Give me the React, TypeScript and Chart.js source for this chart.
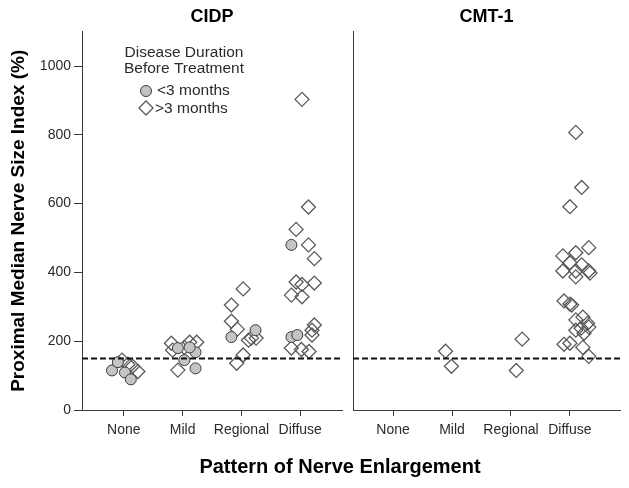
import { useEffect, useRef } from 'react';
import { Chart, registerables } from 'chart.js';

Chart.register(...registerables);

// ---------- data ----------
const CATEGORIES = ['None', 'Mild', 'Regional', 'Diffuse'];
const Y_TICKS = [0, 200, 400, 600, 800, 1000];
const THRESHOLD = 150;

// CIDP, disease duration < 3 months (x = category position incl. jitter)
const cidpShortX = [0.8, 1.02, 1.12, 0.9, 1.92, 2.03, 2.22, 2.22, 2.12, 2.83, 3.24, 3.85, 3.85, 3.95];
const cidpShortY = [115, 109, 89, 139, 180, 145, 168, 121, 182, 212, 232, 480, 212, 218];

// CIDP, disease duration > 3 months
const cidpLongX = [
  0.97, 1.07, 1.24, 1.15,
  1.81, 1.83, 1.92, 2.12, 2.24, 2.03,
  3.03, 2.83, 2.83, 2.93, 3.12, 3.25, 3.17, 3.03, 2.92,
  4.03, 4.14, 3.93, 4.14, 4.24, 3.93, 4.03, 4.24, 3.85, 4.03, 4.24, 4.2, 4.2, 3.85, 4.02, 4.15,
];
const cidpLongY = [
  145, 133, 112, 127,
  194, 174, 116, 197, 197, 182,
  352, 305, 258, 235, 203, 209, 209, 160, 136,
  903, 590, 525, 480, 440, 372, 365, 369, 334, 329, 247, 232, 218, 180, 176, 170,
];

// CMT-1, disease duration > 3 months
const cmtLongX = [
  1.89, 1.99,
  3.19, 3.09,
  4.1, 4.2, 4.0, 4.32, 4.1, 3.88, 4.0, 4.2, 3.88, 4.1, 4.32, 4.34, 4.1,
  3.9, 4.0, 4.03, 4.22, 4.1, 4.3, 4.19, 4.32, 4.1, 4.24, 3.9, 4.0, 4.22, 4.32,
];
const cmtLongY = [
  171, 127,
  206, 115,
  807, 647, 591, 472, 457, 448, 428, 422, 404, 404, 404, 398, 387,
  317, 308, 305, 270, 262, 252, 238, 241, 232, 223, 191, 194, 182, 156,
];

// ---------- styling ----------
const FONT = "'Liberation Sans', Arial, Helvetica, sans-serif";
const W = 629;
const H = 488;
const AXIS_COLOR = '#3a3a3a';
const TEXT_COLOR = '#2a2a2a';
const DIAMOND_COLOR = '#5a5a5a';
const CIRCLE_FILL = '#c4c4c4';
const CIRCLE_BORDER = '#3a3a3a';

const zip = (xs: number[], ys: number[]) => xs.map((x, i) => ({ x, y: ys[i] }));

const legendPlugin = {
  id: 'customText',
  afterDraw(chart: any) {
    const ctx = chart.ctx as CanvasRenderingContext2D;
    ctx.save();
    ctx.fillStyle = TEXT_COLOR;
    ctx.font = `15.5px ${FONT}`;
    ctx.textAlign = 'center';
    ctx.textBaseline = 'middle';
    ctx.fillText('Disease Duration', 184, 53);
    ctx.fillText('Before Treatment', 184, 69);
    // circle marker
    ctx.beginPath();
    ctx.arc(146, 91, 5.5, 0, Math.PI * 2);
    ctx.fillStyle = CIRCLE_FILL;
    ctx.fill();
    ctx.lineWidth = 1;
    ctx.strokeStyle = CIRCLE_BORDER;
    ctx.stroke();
    // diamond marker
    ctx.beginPath();
    ctx.moveTo(139, 108);
    ctx.lineTo(146, 101);
    ctx.lineTo(153, 108);
    ctx.lineTo(146, 115);
    ctx.closePath();
    ctx.lineWidth = 1.3;
    ctx.strokeStyle = DIAMOND_COLOR;
    ctx.stroke();
    ctx.fillStyle = TEXT_COLOR;
    ctx.textAlign = 'left';
    ctx.fillText('<3 months', 157, 91);
    ctx.fillText('>3 months', 155, 109);
    // shared x title
    ctx.fillStyle = '#000';
    ctx.font = `bold 20px ${FONT}`;
    ctx.textAlign = 'center';
    ctx.fillText('Pattern of Nerve Enlargement', 340, 467);
    ctx.restore();
  },
};

function makeConfig(panel: 'left' | 'right'): any {
  const isLeft = panel === 'left';
  const xMin = isLeft ? 0.29 : 0.32;
  const xMax = isLeft ? 4.71 : 4.85;
  const datasets: any[] = [
    {
      type: 'line',
      data: [
        { x: xMin, y: THRESHOLD },
        { x: xMax, y: THRESHOLD },
      ],
      borderColor: '#111',
      borderWidth: 2,
      borderDash: [6, 3],
      pointRadius: 0,
      fill: false,
    },
  ];
  if (isLeft) {
    datasets.push({
      type: 'scatter',
      label: '<3 months',
      data: zip(cidpShortX, cidpShortY),
      pointStyle: 'circle',
      pointRadius: 5.5,
      backgroundColor: CIRCLE_FILL,
      borderColor: CIRCLE_BORDER,
      borderWidth: 1,
    });
    datasets.push({
      type: 'scatter',
      label: '>3 months',
      data: zip(cidpLongX, cidpLongY),
      pointStyle: 'rectRot',
      pointRadius: 7,
      backgroundColor: 'rgba(255,255,255,0)',
      borderColor: DIAMOND_COLOR,
      borderWidth: 1.3,
    });
  } else {
    datasets.push({
      type: 'scatter',
      label: '>3 months',
      data: zip(cmtLongX, cmtLongY),
      pointStyle: 'rectRot',
      pointRadius: 7,
      backgroundColor: 'rgba(255,255,255,0)',
      borderColor: DIAMOND_COLOR,
      borderWidth: 1.3,
    });
  }

  return {
    type: 'scatter',
    data: { datasets },
    plugins: isLeft ? [legendPlugin] : [],
    options: {
      responsive: false,
      animation: false,
      events: [],
      layout: {
        padding: isLeft
          ? { left: 0, right: W - 342, top: 0, bottom: 0 }
          : { left: 353, right: W - 620, top: 0, bottom: 0 },
      },
      plugins: {
        legend: { display: false },
        tooltip: { enabled: false },
        title: {
          display: true,
          text: isLeft ? 'CIDP' : 'CMT-1',
          fullSize: false,
          color: '#000',
          font: { family: FONT, size: 18, weight: 'bold', lineHeight: 1.2 },
          padding: { top: 6, bottom: 4 },
        },
      },
      scales: {
        x: {
          type: 'linear',
          min: xMin,
          max: xMax,
          afterBuildTicks: (s: any) => {
            s.ticks = CATEGORIES.map((_, i) => ({ value: i + 1 }));
          },
          afterFit: (s: any) => {
            s.height = 78;
          },
          ticks: {
            autoSkip: false,
            maxRotation: 0,
            padding: 6,
            color: TEXT_COLOR,
            font: { family: FONT, size: 14 },
            callback: (v: number) => CATEGORIES[Math.round(v) - 1] ?? '',
          },
          grid: {
            drawOnChartArea: false,
            drawTicks: true,
            tickLength: 6,
            color: AXIS_COLOR,
            lineWidth: 1,
          },
          border: { display: true, color: AXIS_COLOR, width: 1 },
        },
        y: {
          type: 'linear',
          min: 0,
          max: 1100,
          afterBuildTicks: (s: any) => {
            s.ticks = Y_TICKS.map((v) => ({ value: v }));
          },
          afterFit: (s: any) => {
            s.width = isLeft ? 82 : 0;
          },
          ticks: {
            display: isLeft,
            padding: 3,
            color: TEXT_COLOR,
            font: { family: FONT, size: 14 },
            callback: (v: number) => String(v),
          },
          grid: {
            drawOnChartArea: false,
            drawTicks: isLeft,
            tickLength: 8,
            color: AXIS_COLOR,
            lineWidth: 1,
          },
          border: { display: true, color: AXIS_COLOR, width: 1 },
          title: {
            display: isLeft,
            text: 'Proximal Median Nerve Size Index (%)',
            color: '#000',
            font: { family: FONT, size: 19, weight: 'bold' },
            padding: { top: 7, bottom: 0 },
          },
        },
      },
    },
  };
}

function Panel({ side }: { side: 'left' | 'right' }) {
  const ref = useRef<HTMLCanvasElement>(null);
  useEffect(() => {
    if (!ref.current) return;
    const chart = new Chart(ref.current, makeConfig(side));
    return () => chart.destroy();
  }, [side]);
  return (
    <canvas
      ref={ref}
      width={W}
      height={H}
      style={{ position: 'absolute', left: 0, top: 0, width: W, height: H }}
    />
  );
}

export default function App() {
  return (
    <div
      style={{
        position: 'absolute',
        left: 0,
        top: 0,
        width: W,
        height: H,
        background: '#fff',
        overflow: 'hidden',
      }}
    >
      <Panel side="left" />
      <Panel side="right" />
    </div>
  );
}
